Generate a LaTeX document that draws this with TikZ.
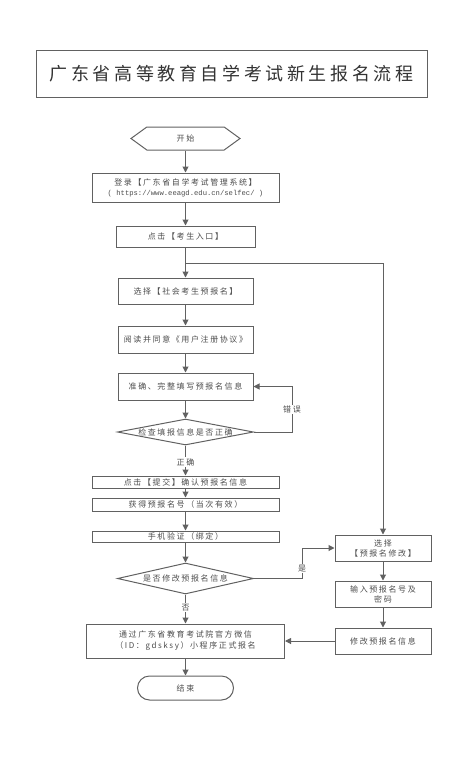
\documentclass[tikz,border=0pt]{standalone}
\usepackage{fontspec}
\newfontfamily\cjk[LetterSpace=20]{Noto Sans CJK SC}
\newfontfamily\urlfont{Liberation Mono}
\usetikzlibrary{arrows.meta}
\usetikzlibrary{shapes.geometric,shapes.symbols}
\definecolor{linegray}{gray}{0.38}
\definecolor{textgray}{gray}{0.3}

\begin{document}
\begin{tikzpicture}[x=1pt,y=-1pt,
  every node/.style={font=\cjk\fontsize{8}{10}\selectfont, text=textgray},
  box/.style={draw=linegray, line width=1pt, inner sep=0pt, align=center},
  decision/.style={draw=linegray, line width=1pt, diamond, inner sep=0pt},
  flow/.style={draw=linegray, line width=1pt, -{Triangle[length=6pt,width=6pt]}},
  tag/.style={fill=white, inner sep=1pt}]
\useasboundingbox (0,0) rectangle (469,768);
\node[box, minimum width=391pt, minimum height=46pt, font=\cjk\fontsize{18}{20}\selectfont, text=black!80] (title) at (231.5,74) {广东省高等教育自学考试新生报名流程};
\node[box, signal, signal to=west and east, signal pointer angle=72, minimum width=109pt, minimum height=23pt] (start) at (185.5,138.5) {开始};
\node[box, minimum width=187pt, minimum height=29pt] (login) at (185.5,187.5) {登录【广东省自学考试管理系统】\\{\urlfont\fontsize{7.2}{10}\selectfont ( https://www.eeagd.edu.cn/selfec/ )}};
\node[box, minimum width=139pt, minimum height=21pt] (entry) at (185.5,236.5) {点击【考生入口】};
\node[box, minimum width=135pt, minimum height=26pt] (social) at (185.5,291) {选择【社会考生预报名】};
\node[box, minimum width=135pt, minimum height=27pt] (agree) at (185.5,339.5) {阅读并同意《用户注册协议》};
\node[box, minimum width=135pt, minimum height=27pt] (fill) at (185.5,386.5) {准确、完整填写预报名信息};
\node[decision, minimum width=136pt, minimum height=26pt, label=center:检查填报信息是否正确] (check) at (185.5,432) {};
\node[box, minimum width=187pt, minimum height=12pt] (submit) at (185.5,482) {点击【提交】确认预报名信息};
\node[box, minimum width=187pt, minimum height=13pt] (number) at (185.5,504.5) {获得预报名号（当次有效）};
\node[box, minimum width=187pt, minimum height=11pt] (phone) at (185.5,536.5) {手机验证（绑定）};
\node[decision, minimum width=136pt, minimum height=31pt, label=center:是否修改预报名信息] (modify) at (185.5,578.5) {};
\node[box, minimum width=198pt, minimum height=34pt, font=\cjk\fontsize{8}{11}\selectfont] (wechat) at (185.5,641) {通过广东省教育考试院官方微信\\（ID：gdsksy）小程序正式报名};
\node[box, rounded corners=12pt, minimum width=96pt, minimum height=24pt] (finish) at (185.5,688) {结束};
\node[box, minimum width=96pt, minimum height=26pt] (choose) at (383,548) {选择\\【预报名修改】};
\node[box, minimum width=96pt, minimum height=26pt] (input) at (383,594) {输入预报名号及\\密码};
\node[box, minimum width=96pt, minimum height=26pt] (change) at (383,641) {修改预报名信息};
\coordinate (split) at (185.5,263);
\draw[flow] (start) -- (login);
\draw[flow] (login) -- (entry);
\draw[flow] (entry) -- (social);
\draw[flow] (split) -| (choose.north);
\draw[flow] (social) -- (agree);
\draw[flow] (agree) -- (fill);
\draw[flow] (fill) -- (check);
\draw[flow] (check.east) -- ++(38,0) |- node[tag, pos=0.25]{错误} (fill.east);
\draw[flow] (check.south) -- node[tag, pos=0.55]{正确} (submit.north);
\draw[flow] (submit) -- (number);
\draw[flow] (number) -- (phone);
\draw[flow] (phone) -- (modify);
\draw[flow] (modify.east) -- ++(48,0) |- node[tag, pos=0.17]{是} (choose.west);
\draw[flow] (modify.south) -- node[tag, pos=0.45]{否} (wechat.north);
\draw[flow] (wechat) -- (finish);
\draw[flow] (choose) -- (input);
\draw[flow] (input) -- (change);
\draw[flow] (change) -- (wechat);
\end{tikzpicture}
\end{document}
